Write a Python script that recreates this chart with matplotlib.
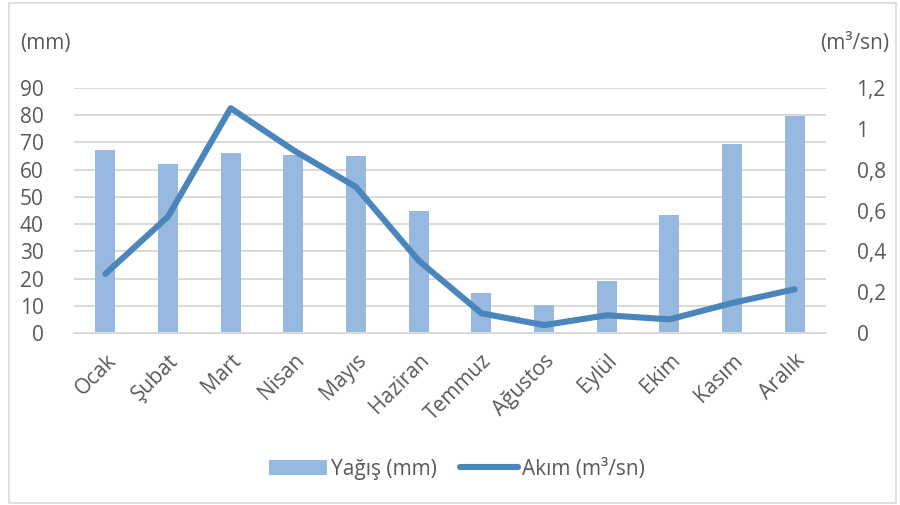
import matplotlib
matplotlib.use("Agg")
import matplotlib.pyplot as plt
from matplotlib.patches import Rectangle

plt.rcParams['font.family'] = ['Open Sans', 'DejaVu Sans']

months = ["Ocak", "Şubat", "Mart", "Nisan", "Mayıs", "Haziran",
          "Temmuz", "Ağustos", "Eylül", "Ekim", "Kasım", "Aralık"]
rain_mm = [67, 62, 66.2, 65.5, 64.8, 45, 14.7, 10.4, 19.2, 43.5, 69.2, 79.5]
flow_m3s = [0.29, 0.57, 1.10, 0.895, 0.715, 0.355, 0.098, 0.040, 0.088, 0.068, 0.148, 0.215]
left_ticks = [0, 10, 20, 30, 40, 50, 60, 70, 80, 90]
right_ticks = [0, 0.2, 0.4, 0.6, 0.8, 1.0, 1.2]
right_labels = ["0", "0,2", "0,4", "0,6", "0,8", "1", "1,2"]

bar_color = "#98B9DF"
line_color = "#4A86BC"
text_color = "#595959"
grid_color = "#D9D9D9"

fig = plt.figure(figsize=(9, 5.05), dpi=100)
ax = fig.add_axes([74/900, 1 - 333.3/505, (826-74)/900, (333.3-87.7)/505])
ax2 = ax.twinx()

x = list(range(len(months)))
ax.bar(x, rain_mm, width=0.32, color=bar_color, zorder=2, label="Yağış (mm)")
ax2.plot(x, flow_m3s, color=line_color, lw=4.4, solid_capstyle='round',
         solid_joinstyle='round', zorder=3, label="Akım (m³/sn)")

ax.set_xlim(-0.5, len(months) - 0.5)
ax.set_ylim(0, 90)
ax2.set_ylim(0, 1.2)
ax.set_yticks(left_ticks)
ax.set_yticklabels([str(t) for t in left_ticks])
ax2.set_yticks(right_ticks)
ax2.set_yticklabels(right_labels)

ax.yaxis.grid(True, color=grid_color, lw=1.4, zorder=0)
ax.set_axisbelow(True)
for a in (ax, ax2):
    for s in a.spines.values():
        s.set_visible(False)
ax.spines['bottom'].set_visible(True)
ax.spines['bottom'].set_color(grid_color)
ax.spines['bottom'].set_linewidth(1.4)

ax.tick_params(axis='y', length=0, pad=22, labelsize=15, labelcolor=text_color)
ax2.tick_params(axis='y', length=0, pad=22, labelsize=15, labelcolor=text_color)
ax.set_xticks(x)
ax.set_xticklabels(months, rotation=45, ha='right', va='top',
                   rotation_mode='anchor', fontsize=15, color=text_color)
ax.tick_params(axis='x', length=0, pad=12)

fig.text(20/900, 1 - 44/505, "(mm)", fontsize=15, color=text_color,
         ha='left', va='center')
fig.text(889/900, 1 - 44/505, "(m³/sn)", fontsize=15, color=text_color,
         ha='right', va='center')

h1, l1 = ax.get_legend_handles_labels()
h2, l2 = ax2.get_legend_handles_labels()
fig.legend(h1 + h2, l1 + l2, loc='center', bbox_to_anchor=(457/900, 1 - 469/505),
           ncol=2, frameon=False, fontsize=15, labelcolor=text_color,
           handlelength=2.8, handletextpad=0.2, columnspacing=1.1)

fig.patches.append(Rectangle((9/900, 2/505), 887/900, 500/505, transform=fig.transFigure,
                             fill=False, edgecolor="#D9D9D9", lw=1.2))

fig.savefig("out.png", dpi=100, facecolor="white")
